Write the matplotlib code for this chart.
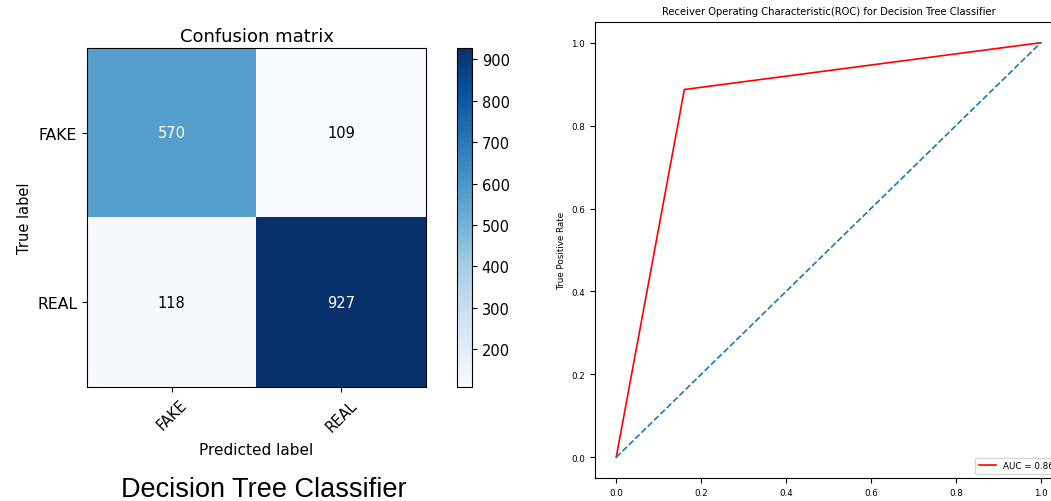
import numpy as np
import matplotlib.pyplot as plt

classes = ["FAKE", "REAL"]
cm = np.array([[570, 109],
               [118, 927]])
cbar_ticks = [200, 300, 400, 500, 600, 700, 800, 900]

# ROC curve points of the decision tree
fpr = [0.0, 0.1605, 1.0]
tpr = [0.0, 0.8871, 1.0]
auc_score = 0.86


def plot_confusion(fig):
    W, H = 1051.0, 502.0
    ax = fig.add_axes([87 / W, 114 / H, 339 / W, 339 / H])
    cax = fig.add_axes([457 / W, 114 / H, 15 / W, 339 / H])

    im = ax.imshow(cm, interpolation="nearest", cmap=plt.cm.Blues, aspect="auto")
    ax.set_title("Confusion matrix", fontsize=13, pad=5)
    cb = fig.colorbar(im, cax=cax)
    cb.set_ticks(cbar_ticks)
    cb.ax.tick_params(labelsize=10.5)

    ticks = np.arange(len(classes))
    ax.set_xticks(ticks)
    ax.set_xticklabels(classes, rotation=45, fontsize=10.5)
    ax.set_yticks(ticks)
    ax.set_yticklabels(classes, fontsize=11.3)

    thresh = cm.max() / 2.0
    for i in range(cm.shape[0]):
        for j in range(cm.shape[1]):
            ax.text(j, i, cm[i, j], ha="center", va="center", fontsize=10.5,
                    color="white" if cm[i, j] > thresh else "black")

    ax.set_ylabel("True label", fontsize=10.5)
    ax.set_xlabel("Predicted label", fontsize=11, labelpad=6)

    fig.text(264 / W, 1 - 490 / H, "Decision Tree Classifier", ha="center",
             va="center", fontsize=19.5, family="Liberation Sans")


def plot_roc(fig):
    W, H = 1051.0, 502.0
    ax = fig.add_axes([595 / W, 23 / H, 467 / W, 456 / H])
    ax.plot(fpr, tpr, color="red", lw=1.2, label="AUC = %0.2f" % auc_score)
    ax.plot([0, 1], [0, 1], "--", lw=1.2)
    ax.set_title("Receiver Operating Characteristic(ROC) for Decision Tree Classifier",
                 fontsize=7.2)
    ax.set_xlabel("False Positive Rate", fontsize=6.3)
    ax.set_ylabel("True Positive Rate", fontsize=6.3)
    ax.tick_params(labelsize=6.3)
    ax.legend(loc="lower right", fontsize=6.3)


if __name__ == "__main__":
    fig = plt.figure(figsize=(10.51, 5.02), dpi=100)
    plot_confusion(fig)
    plot_roc(fig)
    fig.savefig("out.png", dpi=100)
